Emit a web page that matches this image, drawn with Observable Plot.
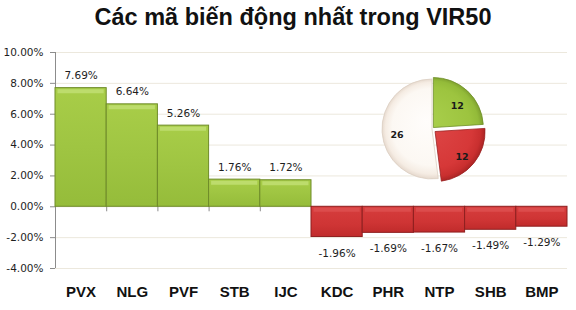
<!DOCTYPE html>
<html>
<head>
<meta charset="utf-8">
<script src="https://cdn.jsdelivr.net/npm/d3@7"></script>
<script src="https://cdn.jsdelivr.net/npm/@observablehq/plot@0.6"></script>
<style>
  html, body { margin: 0; padding: 0; background: #ffffff; }
  #title {
    box-sizing: border-box;
    height: 40px;
    padding-top: 6px;
    padding-left: 10px;
    text-align: center;
    font: bold 23.5px "Liberation Sans", Arial, sans-serif;
    line-height: 1;
    color: #111111;
    white-space: nowrap;
  }
  #chart svg { display: block; }
</style>
</head>
<body>
<div id="title">Các mã biến động nhất trong VIR50</div>
<div id="chart"></div>
<script>
// ---- data ----
const categories = ["PVX", "NLG", "PVF", "STB", "IJC", "KDC", "PHR", "NTP", "SHB", "BMP"];
const changes = [7.69, 6.64, 5.26, 1.76, 1.72, -1.96, -1.69, -1.67, -1.49, -1.29];
const yTicks = [-4, -2, 0, 2, 4, 6, 8, 10];
const pieKeys = ["up", "down", "flat"];
const pieValues = [12, 12, 26];

// ---- layout / style constants ----
const PIE = { cx: 7.363, cy: 5.01, r: 50, labelR: 35, explode: [2, 4, 0] };
const pieFills = ["url(#pieGreen)", "url(#pieRed)", "url(#pieWhite)"];
const pieStrokes = ["#6f8f28", "#9a2222", "#dccfc3"];
const tickFont = "'DejaVu Sans', Verdana, sans-serif";

const bars = categories.map((name, i) => ({ name, i, value: changes[i] }));
const isUp = d => d.value >= 0;
const isDown = d => d.value < 0;
const pct = v => v.toFixed(2) + "%";

function defsMark() {
  const defs = d3.create("svg:defs");
  const lin = (id, stops, x2 = 0, y2 = 1) => {
    const g = defs.append("linearGradient").attr("id", id)
      .attr("x1", 0).attr("y1", 0).attr("x2", x2).attr("y2", y2);
    stops.forEach(([o, c]) => g.append("stop").attr("offset", o).attr("stop-color", c));
  };
  lin("greenBody", [["0", "#a8cd48"], ["0.5", "#9fc542"], ["1", "#95bc3a"]]);
  lin("redBody", [["0", "#d63d3d"], ["0.6", "#cf3535"], ["1", "#c02b2b"]]);
  return defs.node();
}

function pieMark(index, scales) {
  const cx = scales.x(PIE.cx), cy = scales.y(PIE.cy), R = PIE.r;
  const g = d3.create("svg:g");
  const defs = g.append("defs");
  const rad = (id, stops) => {
    const gr = defs.append("radialGradient").attr("id", id)
      .attr("gradientUnits", "userSpaceOnUse")
      .attr("cx", 0).attr("cy", 0).attr("r", R + 1)
      .attr("fx", -6).attr("fy", -8);
    stops.forEach(([o, c]) => gr.append("stop").attr("offset", o).attr("stop-color", c));
  };
  rad("pieGreen", [["0", "#a9cf4c"], ["0.75", "#9dc43f"], ["0.9", "#93bb39"], ["1", "#7a9a2c"]]);
  rad("pieRed", [["0", "#de4747"], ["0.75", "#d63838"], ["0.9", "#c92f2f"], ["1", "#a52222"]]);
  rad("pieWhite", [["0", "#fffdfb"], ["0.75", "#fcf8f3"], ["0.9", "#f5ece3"], ["1", "#e2d4c8"]]);

  const arcs = d3.pie().sort(null).startAngle(0).endAngle(2 * Math.PI)(pieValues);
  const arc = d3.arc().innerRadius(0).outerRadius(R);
  const labelArc = d3.arc().innerRadius(PIE.labelR).outerRadius(PIE.labelR);
  arcs.forEach((a, k) => {
    const mid = (a.startAngle + a.endAngle) / 2;
    const ex = PIE.explode[k];
    const ox = cx + ex * Math.sin(mid), oy = cy - ex * Math.cos(mid);
    g.append("path")
      .attr("transform", `translate(${ox},${oy})`)
      .attr("d", arc(a))
      .attr("fill", pieFills[k])
      .attr("stroke", pieStrokes[k])
      .attr("stroke-width", 0.8);
    const [lx, ly] = labelArc.centroid(a);
    g.append("text")
      .attr("x", ox + lx).attr("y", oy + ly + 4)
      .attr("text-anchor", "middle")
      .attr("dominant-baseline", "middle")
      .attr("font-family", tickFont)
      .attr("font-weight", "bold")
      .attr("font-size", 9.5)
      .attr("fill", "#1a1a1a")
      .text(pieValues[k]);
  });
  return g.node();
}

const chart = Plot.plot({
  width: 576,
  height: 270,
  marginLeft: 55,
  marginRight: 9,
  marginTop: 12,
  marginBottom: 42,
  style: { background: "#ffffff", overflow: "visible" },
  x: { type: "linear", domain: [0, categories.length], axis: null },
  y: { domain: [-4, 10], axis: null },
  marks: [
    defsMark,
    Plot.ruleY(yTicks, { stroke: "#ece8dd", strokeWidth: 1 }),
    Plot.ruleX(d3.range(1, categories.length), { y1: 0, y2: 0, insetBottom: -5, stroke: "#8c8c8c" }),
    Plot.ruleX([0], { y1: -4, y2: 10, stroke: "#8c8c8c" }),
    Plot.axisY(yTicks, {
      label: null, tickSize: 5, tickPadding: 7, stroke: "#8c8c8c", fill: "#1e1e1e",
      tickFormat: pct, fontSize: 10.5, fontFamily: tickFont
    }),
    Plot.axisX(bars.map(d => d.i + 0.5), {
      label: null, tickSize: 0, tickPadding: 18, fill: "#111111",
      tickFormat: v => categories[Math.floor(v)],
      fontSize: 15, fontWeight: "bold", fontFamily: "'Liberation Sans', Arial, sans-serif"
    }),
    // bars
    Plot.rectY(bars, {
      filter: isUp, x1: "i", x2: d => d.i + 1, y1: 0, y2: "value",
      fill: "url(#greenBody)", stroke: "#6e8b28", strokeWidth: 1
    }),
    Plot.rectY(bars, {
      filter: isDown, x1: "i", x2: d => d.i + 1, y1: 0, y2: "value",
      fill: "url(#redBody)", stroke: "#8e1f1f", strokeWidth: 1
    }),
    // top bevel highlights
    Plot.ruleY(bars, {
      filter: isUp, x1: "i", x2: d => d.i + 1, y: "value", dy: 3,
      insetLeft: 2.5, insetRight: 2.5, stroke: "#bddc6c", strokeWidth: 4
    }),
    Plot.ruleY(bars, {
      filter: isDown, x1: "i", x2: d => d.i + 1, y: 0, dy: 3,
      insetLeft: 2.5, insetRight: 2.5, stroke: "#dc4c4c", strokeWidth: 4
    }),
    // value labels
    Plot.text(bars, {
      filter: isUp, x: d => d.i + 0.5, y: "value", dy: -9, lineAnchor: "bottom",
      text: d => pct(d.value), fontSize: 10.5, fontFamily: tickFont, fill: "#1e1e1e"
    }),
    Plot.text(bars, {
      filter: isDown, x: d => d.i + 0.5, y: "value", dy: 19.5, lineAnchor: "bottom",
      text: d => pct(d.value), fontSize: 10.5, fontFamily: tickFont, fill: "#1e1e1e"
    }),
    pieMark
  ]
});
document.getElementById("chart").appendChild(chart);
</script>
</body>
</html>
